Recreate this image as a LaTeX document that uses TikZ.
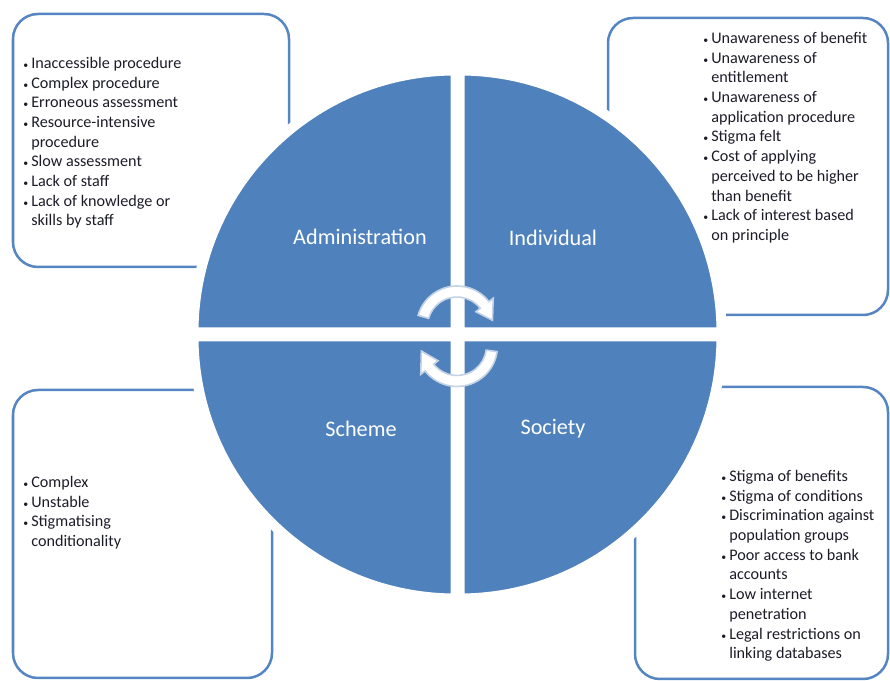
\documentclass[tikz,border=0pt]{standalone}
\usepackage{fontspec}
\setmainfont{Carlito}
\usetikzlibrary{calc}
\usetikzlibrary{positioning}

\definecolor{quadblue}{HTML}{4F81BD}
\definecolor{boxblue}{HTML}{5585C2}
\definecolor{arrowedge}{HTML}{C4D2E6}
\definecolor{listink}{HTML}{1C1C28}

\newcommand{\bul}{\makebox[5.7pt][l]{\scriptsize\textbullet}}
\newcommand{\cont}{\hspace*{5.7pt}}

\tikzset{quad/.style={ fill=quadblue, draw=white, line width=0.25cm },
            sidebox/.style={ draw=boxblue, line width=0.0625cm, rounded corners=0.625cm },
            quadlabel/.style={ text=white, font=\fontsize{15.8}{18}\selectfont },
            listtext/.style={ text=listink, align=left, inner sep=0pt, anchor=north west,
                font=\fontsize{11.5}{14}\selectfont },
            turn/.style={ fill=white, draw=arrowedge, line width=0.04cm }}

\begin{document}
\begin{tikzpicture}[x=0.025cm,y=-0.025cm]
\useasboundingbox (0,0) rectangle (890,681);
%
\draw [sidebox] (13,14) rectangle (289,267);
\draw [sidebox] (608,18) rectangle (888,315);
\draw [sidebox] (13,390) rectangle (272,678);
\draw [sidebox] (635,387) rectangle (888,679);
%
\coordinate (c) at (457.5,334.5);
\filldraw [quad] ($(c)+(-2,-2)$) -- ++(-262,0) arc[start angle=180,end angle=270,radius=262] -- cycle;
\filldraw [quad] ($(c)+(2,-2)$) -- ++(0,-262) arc[start angle=270,end angle=360,radius=262] -- cycle;
\filldraw [quad] ($(c)+(-2,2)$) -- ++(0,262) arc[start angle=90,end angle=180,radius=262] -- cycle;
\filldraw [quad] ($(c)+(2,2)$) -- ++(262,0) arc[start angle=0,end angle=90,radius=262] -- cycle;
%
\node [quadlabel] (adm) at (360,237) {Administration};
\node [quadlabel] (ind) at (553,238) {Individual};
\node [quadlabel] (sch) at (361,429) {Scheme};
\node [quadlabel] (soc) at (553,429) {Society};
%
\coordinate (ct) at (457,326.5);
\filldraw [turn] ($(ct)+(-164:40.5)$) arc[start angle=-164,end angle=-38,radius=40.5]
    -- ($(ct)+(-38:46)$) -- ($(ct)+(-10:36)$) -- ($(ct)+(-38:24)$)
    -- ($(ct)+(-38:29.5)$) arc[start angle=-38,end angle=-164,radius=29.5] -- cycle;
\coordinate (cb) at (457,346);
\filldraw [turn] ($(cb)+(8:40.5)$) arc[start angle=8,end angle=142,radius=40.5]
    -- ($(cb)+(142:46)$) -- ($(cb)+(172:36)$) -- ($(cb)+(142:24)$)
    -- ($(cb)+(142:29.5)$) arc[start angle=142,end angle=8,radius=29.5] -- cycle;
%
\node [listtext] (admlist) at (23,57)
    {\bul Inaccessible procedure\\ \bul Complex procedure\\ \bul Erroneous assessment\\
     \bul Resource-intensive\\ \cont procedure\\ \bul Slow assessment\\ \bul Lack of staff\\
     \bul Lack of knowledge or\\ \cont skills by staff};
\node [listtext] (indlist) at (703,32)
    {\bul Unawareness of benefit\\ \bul Unawareness of\\ \cont entitlement\\
     \bul Unawareness of\\ \cont application procedure\\ \bul Stigma felt\\
     \bul Cost of applying\\ \cont perceived to be higher\\ \cont than benefit\\
     \bul Lack of interest based\\ \cont on principle};
\node [listtext] (schlist) at (23,476)
    {\bul Complex\\ \bul Unstable\\ \bul Stigmatising\\ \cont conditionality};
\node [listtext] (soclist) at (721,470)
    {\bul Stigma of benefits\\ \bul Stigma of conditions\\ \bul Discrimination against\\
     \cont population groups\\ \bul Poor access to bank\\ \cont accounts\\
     \bul Low internet\\ \cont penetration\\ \bul Legal restrictions on\\ \cont linking databases};
\end{tikzpicture}
\end{document}
